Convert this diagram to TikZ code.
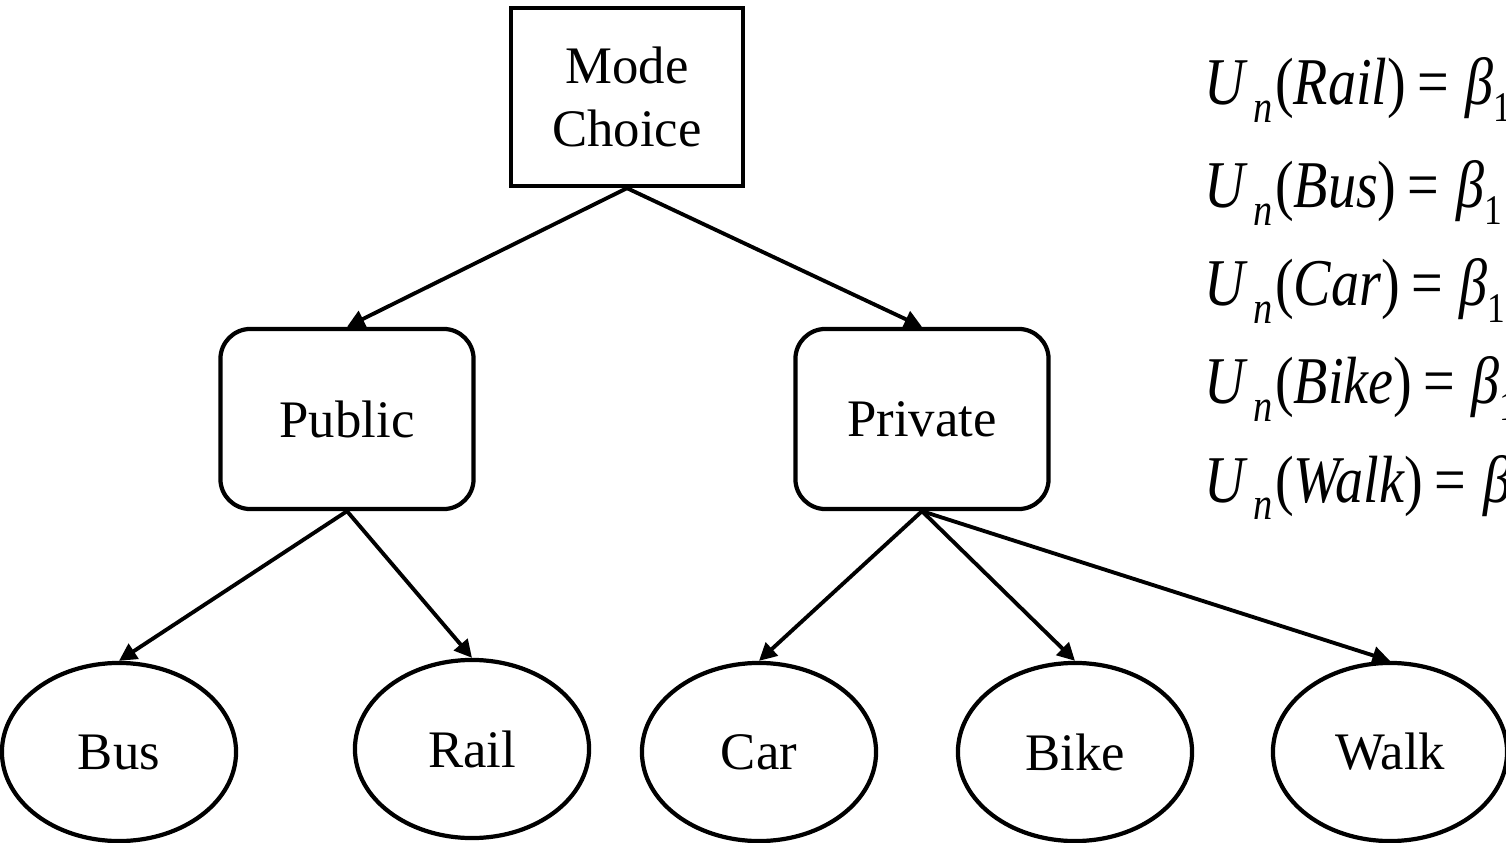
\documentclass[tikz,border=0pt]{standalone}
\usepackage{fontspec}
\setmainfont{Liberation Serif}
\usetikzlibrary{shapes,arrows,arrows.meta}

% utility of one alternative, cut at the right edge as in the slide
\newcommand{\utileq}[1]{\scalebox{0.84}[1]{\textit{U}\hspace{0.08em}\raisebox{-0.26em}{\fontsize{13}{13}\selectfont\textit{n}}\hspace{0.05em}(\textit{#1})\hspace{0.2em}=\hspace{0.3em}\textit{β}\raisebox{-0.25em}{\fontsize{12}{12}\selectfont 1}}}

\begin{document}
\begin{tikzpicture}[x=0.01cm, y=-0.01cm, line width=1.1pt,
    >={Triangle[length=5pt,width=5pt]},
    box/.style={draw, line width=1.2pt, minimum width=2.32cm, minimum height=1.78cm, align=center, font=\fontsize{15}{18}\selectfont},
    nest/.style={box, rounded corners=0.3cm, minimum width=2.53cm, minimum height=1.8cm},
    alt/.style={draw, ellipse, line width=1.2pt, inner sep=0pt, minimum width=2.34cm, minimum height=1.78cm, font=\fontsize{15}{18}\selectfont},
    eq/.style={anchor=base west, inner sep=0pt, font=\fontsize{19}{22}\selectfont}]

    \useasboundingbox (0,0) rectangle (1506,843);
    \clip (0,0) rectangle (1506,843);

    % tree
    \node[box] (mode) at (627,97) {Mode\\Choice};
    \node[nest] (public) at (347,419) {Public};
    \node[nest] (private) at (922,419) {Private};

    \node[alt] (bus) at (119,752) {Bus};
    \node[alt] (rail) at (472,749) {Rail};
    \node[alt] (car) at (759,752) {Car};
    \node[alt] (bike) at (1075,752) {Bike};
    \node[alt] (walk) at (1390,752) {Walk};

    \draw[->] (mode.south) -- (public.north);
    \draw[->] (mode.south) -- (private.north);
    \draw[->] (public.south) -- (bus.north);
    \draw[->] (public.south) -- (rail.north);
    \draw[->] (private.south) -- (car.north);
    \draw[->] (private.south) -- (bike.north);
    \draw[->] (private.south) -- (walk.north);

    % utilities
    \node[eq] (urail) at (1203,105) {\utileq{Rail}};
    \node[eq] (ubus) at (1203,208) {\utileq{Bus}};
    \node[eq] (ucar) at (1203,306) {\utileq{Car}};
    \node[eq] (ubike) at (1203,404) {\utileq{Bike}};
    \node[eq] (uwalk) at (1203,502) {\utileq{Walk}};
\end{tikzpicture}
\end{document}
